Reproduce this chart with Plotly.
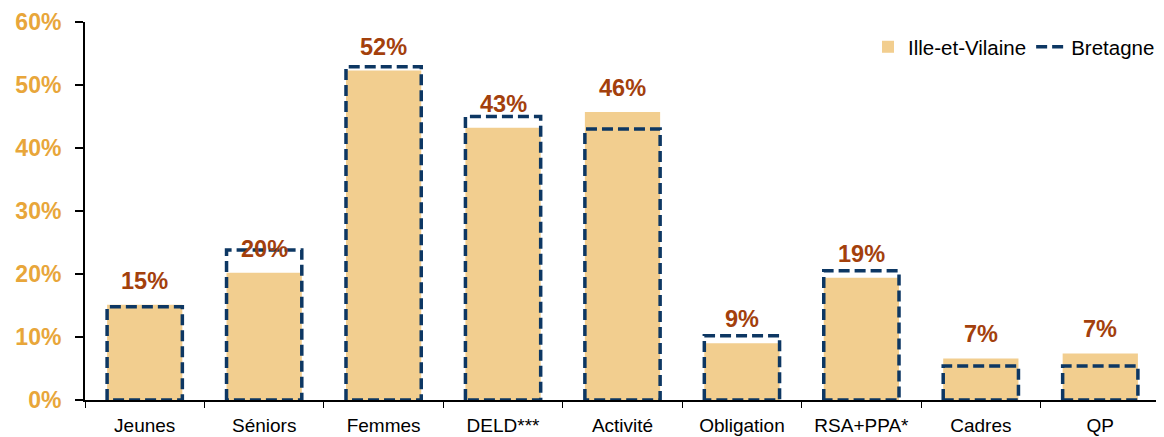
import plotly.graph_objects as go

# Categories and values (percent)
categories = ['Jeunes', 'Séniors', 'Femmes', 'DELD***', 'Activité', 'Obligation', 'RSA+PPA*', 'Cadres', 'QP']
ille_et_vilaine = [15.1, 20.2, 52.3, 43.2, 45.7, 9.0, 19.4, 6.6, 7.4]
bretagne = [14.8, 23.8, 52.9, 45.0, 43.0, 10.2, 20.5, 5.4, 5.4]
y_ticks = [0, 10, 20, 30, 40, 50, 60]

FILL = '#F2CE8F'
NAVY = '#0D3763'
ORANGE = '#E8A63A'
BROWN = '#A3400C'
FONT = 'Liberation Sans, Arial'
BAR_W = 0.63

xs = list(range(len(categories)))

fig = go.Figure()

fig.add_trace(go.Bar(
    x=xs,
    y=ille_et_vilaine,
    width=BAR_W,
    marker=dict(color=FILL, line=dict(width=0)),
    name='Ille-et-Vilaine',
))

# Bretagne drawn as dashed outlines around each category
rx, ry = [], []
half = BAR_W / 2
for x, v in zip(xs, bretagne):
    rx += [x - half, x - half, x + half, x + half, x - half, None]
    ry += [0, v, v, 0, 0, None]
fig.add_trace(go.Scatter(
    x=rx,
    y=ry,
    mode='lines',
    line=dict(color=NAVY, width=3.5, dash='11px,5px'),
    name='Bretagne',
    hoverinfo='skip',
))

# Value labels above the Ille-et-Vilaine bars
for x, v in zip(xs, ille_et_vilaine):
    fig.add_annotation(
        x=x, y=v, text=f'{round(v)}%',
        showarrow=False, yanchor='bottom', yshift=9,
        font=dict(family=FONT, size=23.5, color=BROWN, weight='bold'),
    )

# the page body adds an 8px offset, margins account for it
fig.update_layout(
    width=1164,
    height=437,
    paper_bgcolor='white',
    plot_bgcolor='white',
    margin=dict(l=77, r=12, t=14, b=45),
    font=dict(family=FONT, size=19, color='black'),
    showlegend=True,
    legend=dict(
        orientation='h', x=1.0, xanchor='right', y=0.934, yanchor='middle',
        font=dict(size=20.5), bgcolor='rgba(0,0,0,0)', itemwidth=30,
    ),
    xaxis=dict(
        range=[-0.5, len(categories) - 0.5],
        tickvals=xs,
        ticktext=categories,
        ticks='',
        ticklabelstandoff=7,
        automargin=False,
        showline=True, linecolor='black', linewidth=2,
        showgrid=False, zeroline=False,
        tickfont=dict(size=19, color='black'),
        minor=dict(
            tickvals=[x + 0.5 for x in xs[:-1]] + [-0.5, len(categories) - 0.5],
            ticks='outside', ticklen=6, tickcolor='black', tickwidth=1, showgrid=False,
        ),
    ),
    yaxis=dict(
        range=[0, 60],
        tickvals=y_ticks,
        ticktext=[f'{t}%' for t in y_ticks],
        ticks='outside', ticklen=8, tickcolor='black', tickwidth=2,
        ticklabelstandoff=9,
        automargin=False,
        showline=True, linecolor='black', linewidth=2,
        showgrid=False, zeroline=False,
        tickfont=dict(size=23, color=ORANGE, weight='bold'),
    ),
)

fig.write_html('out.html')
